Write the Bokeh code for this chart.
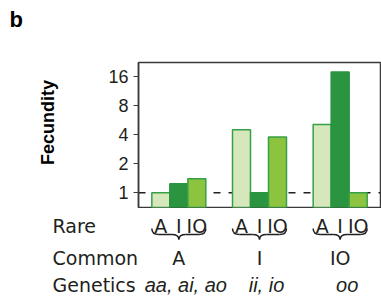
import math
from bokeh.plotting import figure
from bokeh.layouts import column, row
from bokeh.models import Range1d, FixedTicker, Span, ColumnDataSource, BasicTickFormatter
from bokeh.core.properties import value
from bokeh.embed import file_html
from bokeh.resources import INLINE

# ---- data ----
common = ["A", "I", "IO"]
rare = ["A", "I", "IO"]
genetics = ["aa, ai, ao", "ii, io", "oo"]
fec_rare_A = [1.0, 4.5, 5.1]
fec_rare_I = [1.24, 1.0, 17.8]
fec_rare_IO = [1.4, 3.77, 1.0]
y_ticks = [1, 2, 4, 8, 16]
y_tick_labels = ["1", "2", "4", "8", "16"]
row_heads = ["Rare", "Common", "Genetics"]
panel_letter = "b"
y_title = "Fecundity"

X0, X1 = 0.5, 3.5
Y0, Y1 = 0.704, 22.3
FL, FW = 138.0, 242.0
UPX = (X1 - X0) / FW

TXT = "#231f20"
LIGHT, DARK, MED = "#d6e7bc", "#2a9440", "#8cc43f"
EDGE = "#36a048"
TOP_H, BOT_H, LEFT_W = 208, 92, 100


def blank(width, height, xr, yr):
    f = figure(width=width, height=height, output_backend="svg", toolbar_location=None,
               x_range=xr, y_range=yr, x_axis_location=None, y_axis_location=None,
               min_border_left=0, min_border_right=0, min_border_top=0, min_border_bottom=0,
               title=None)
    f.outline_line_color = None
    f.grid.visible = False
    f.background_fill_color = "white"
    f.border_fill_color = "white"
    f.frame_align = False
    return f


# ---- left strip: panel letter and y title ----
pl = blank(LEFT_W, TOP_H, Range1d(0, LEFT_W), Range1d(TOP_H, 0))
pl.text(x=[9], y=[6], text=[panel_letter], text_font=value("Liberation Sans"),
        text_font_style="bold", text_font_size=value("22px"),
        text_align="left", text_baseline="top", text_color="black")
pl.text(x=[47], y=[122], text=[y_title], angle=math.pi / 2,
        text_font=value("Liberation Sans"), text_font_style="bold",
        text_font_size=value("18px"), text_align="center",
        text_baseline="alphabetic", text_color="black")

# ---- main bar chart ----
p = figure(width=381 - LEFT_W, height=TOP_H, output_backend="svg", toolbar_location=None,
           x_range=Range1d(X0, X1), y_range=Range1d(Y0, Y1), y_axis_type="log",
           x_axis_location=None, min_border_left=int(FL) - LEFT_W, min_border_right=1,
           min_border_top=62, min_border_bottom=1, title=None)
p.frame_align = False
p.grid.visible = False
p.outline_line_color = "#3a3a3a"
p.outline_line_width = 1.5
p.background_fill_color = "white"
p.border_fill_color = "white"

ya = p.yaxis[0]
ya.ticker = FixedTicker(ticks=y_ticks, minor_ticks=[])
ya.formatter = BasicTickFormatter()
ya.major_label_overrides = {float(t): s for t, s in zip(y_ticks, y_tick_labels)}
ya.major_label_text_font = "Liberation Sans"
ya.major_label_text_font_size = "18px"
ya.major_label_text_color = TXT
ya.major_tick_out = 5
ya.major_tick_in = 0
ya.major_tick_line_color = "#3a3a3a"
ya.major_tick_line_width = 1.2
ya.axis_line_color = "#3a3a3a"
ya.axis_line_width = 1.5
ya.major_label_standoff = 5

p.add_layout(Span(location=1, dimension="width", line_color=TXT, line_width=1.3,
                  line_dash="7 8", level="underlay"))

groups = [1, 2, 3]
w = 18 * UPX
offsets = [-w, 0.0, w]
series = [(fec_rare_A, LIGHT, EDGE), (fec_rare_I, DARK, DARK), (fec_rare_IO, MED, EDGE)]
for (vals, fill, line), off in zip(series, offsets):
    src = ColumnDataSource(dict(x=[g + off for g in groups], top=vals))
    p.vbar(x="x", top="top", bottom=0.5, width=w, source=src,
           fill_color=fill, line_color=line, line_width=1.5)

# ---- bottom label panel (same x scale as the bars) ----
p2 = blank(381, BOT_H, Range1d(X0 - FL * UPX, X0 + (381 - FL) * UPX), Range1d(BOT_H, 0))
xh = X0 + (52 - FL) * UPX
ROW_Y = [17, 49, 76]
p2.text(x=[xh] * 3, y=ROW_Y, text=row_heads,
        text_font=value("DejaVu Sans"), text_font_size=value("19px"),
        text_align="left", text_baseline="alphabetic", text_color=TXT)
p2.text(x=[g + o for g in groups for o in offsets], y=[ROW_Y[0]] * 9, text=rare * 3,
        text_font=value("DejaVu Sans"), text_font_size=value("19px"),
        text_align="center", text_baseline="alphabetic", text_color=TXT)
p2.text(x=groups, y=[ROW_Y[1]] * 3, text=common,
        text_font=value("DejaVu Sans"), text_font_size=value("19px"),
        text_align="center", text_baseline="alphabetic", text_color=TXT)
p2.text(x=groups, y=[ROW_Y[2]] * 3, text=genetics, x_offset=7,
        text_font=value("Liberation Sans"), text_font_style="italic",
        text_font_size=value("20px"),
        text_align="center", text_baseline="alphabetic", text_color=TXT)

# braces under the rare letters
hw = 27 * UPX
d = 7 * UPX
yt, ym, yb = 20, 26, 31
qx0, qy0, qx1, qy1, qcx, qcy = [], [], [], [], [], []
sx0, sy0, sx1, sy1 = [], [], [], []
for g in groups:
    L, R, C = g - hw, g + hw, g
    for a in [(L, yt, L + d, ym, L, ym), (C - d, ym, C, yb, C, ym),
              (C, yb, C + d, ym, C, ym), (R - d, ym, R, yt, R, ym)]:
        qx0.append(a[0]); qy0.append(a[1]); qx1.append(a[2]); qy1.append(a[3])
        qcx.append(a[4]); qcy.append(a[5])
    for a in [(L + d, ym, C - d, ym), (C + d, ym, R - d, ym)]:
        sx0.append(a[0]); sy0.append(a[1]); sx1.append(a[2]); sy1.append(a[3])
p2.quadratic(x0=qx0, y0=qy0, x1=qx1, y1=qy1, cx=qcx, cy=qcy,
             line_color=TXT, line_width=1.5)
p2.segment(x0=sx0, y0=sy0, x1=sx1, y1=sy1, line_color=TXT, line_width=1.5)

layout = column(row(pl, p, spacing=0), p2, spacing=0)
open("out.html", "w").write(file_html(layout, INLINE))
